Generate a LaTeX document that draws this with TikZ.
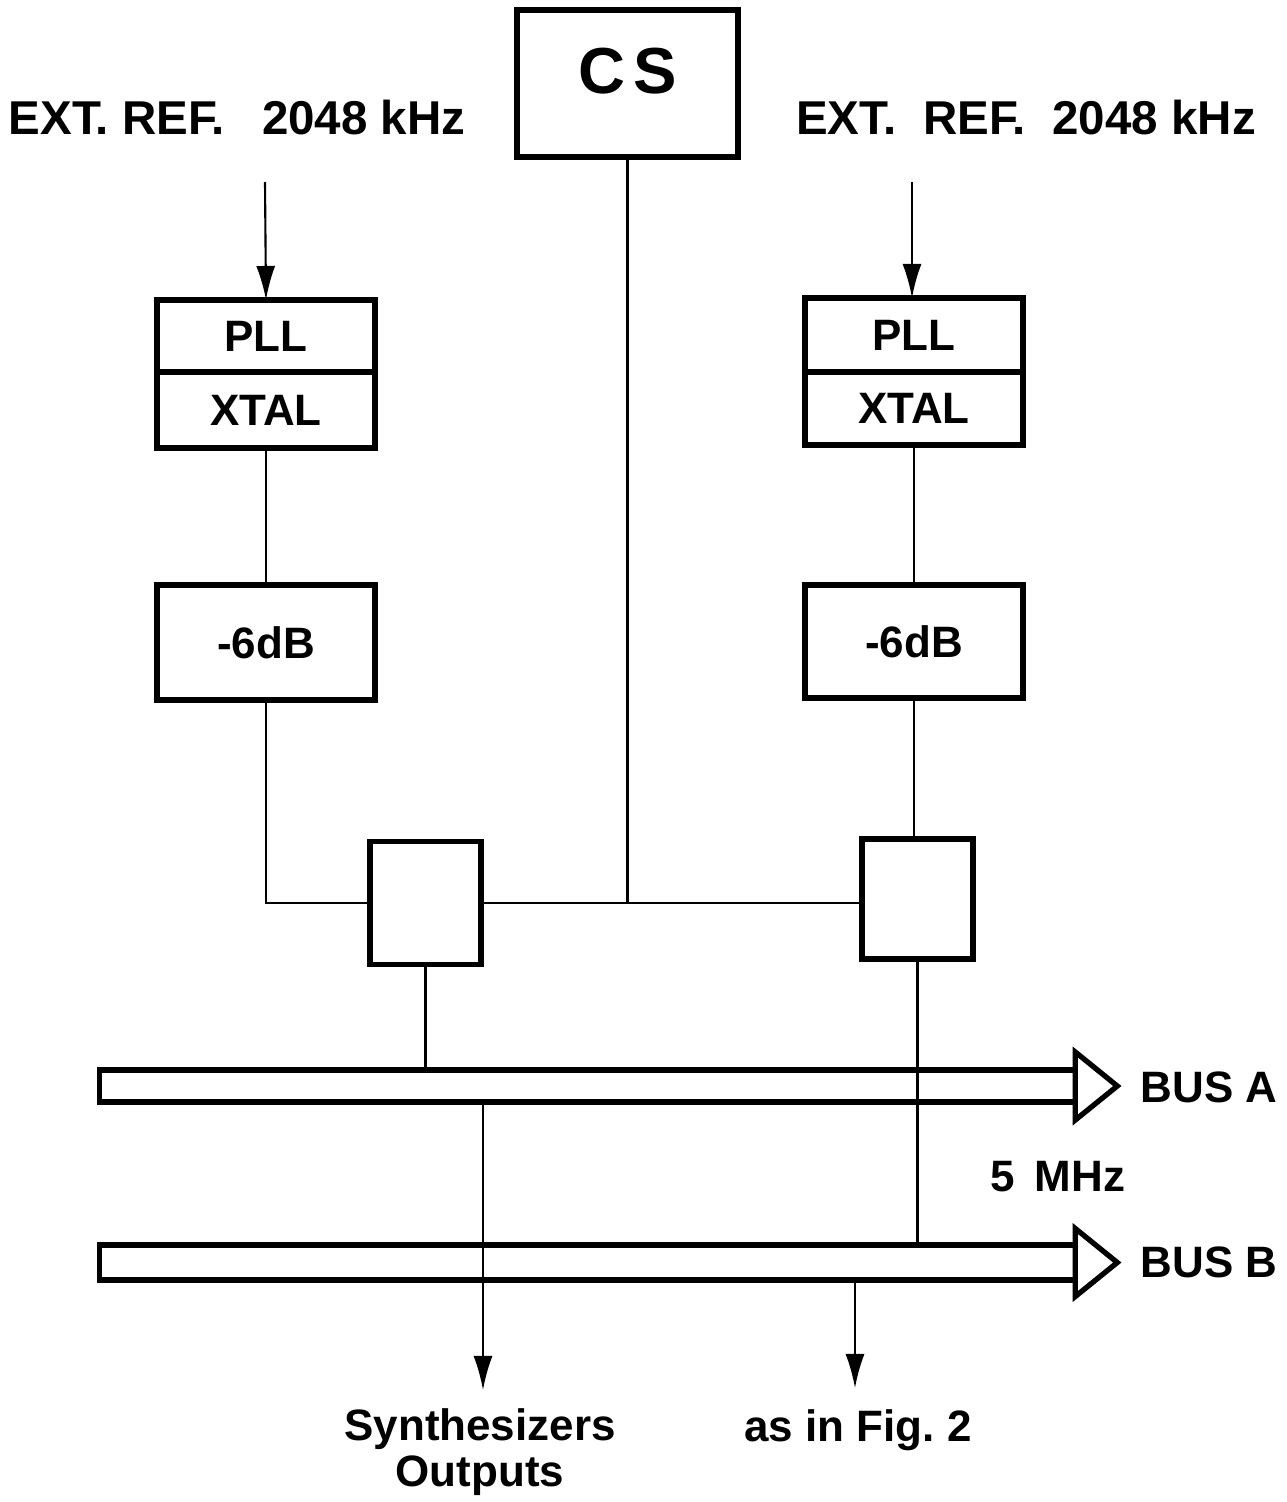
\documentclass[tikz,border=0pt]{standalone}
\usepackage{fontspec}
\setmainfont{Liberation Sans}
\usetikzlibrary{arrows.meta}
\begin{document}
\begin{tikzpicture}[x=0.01cm,y=-0.01cm,
  box/.style={draw,line width=1.6pt,rectangle,inner sep=0pt,outer sep=0pt,font=\fontsize{12.5}{14}\selectfont\bfseries},
  wire/.style={line width=0.6pt},
  arr/.style={line width=0.6pt,-{Latex[length=0.34cm,width=0.19cm]}},
  bus/.style={draw,line width=1.5pt,rectangle,inner sep=0pt,outer sep=0pt,minimum width=9.75cm},
  lbl/.style={font=\fontsize{12.5}{15}\selectfont\bfseries,inner sep=0pt,align=center},
  big/.style={font=\fontsize{13.5}{15}\selectfont\bfseries,inner sep=0pt}
]
\useasboundingbox (0,0) rectangle (1287,1502);
% top
\node[box,minimum width=2.21cm,minimum height=1.47cm,font=\fontsize{18.5}{20}\selectfont\bfseries,text depth=0.25cm] (cs) at (627.5,83.5) {C\kern0.12em S};
\node[big] (extL) at (237,118) {EXT. REF.\hspace{0.78em}2048 kHz};
\node[big] (extR) at (1026,118) {EXT.\hspace{0.56em}REF.\hspace{0.56em}2048 kHz};
\coordinate (refL) at (265,182);
\coordinate (refR) at (912,182);
% left chain
\node[box,minimum width=2.18cm,minimum height=0.72cm] (pllL) at (266,336) {PLL};
\node[box,minimum width=2.18cm,minimum height=0.76cm,anchor=north] (xtalL) at (pllL.south) {XTAL};
\node[box,minimum width=2.18cm,minimum height=1.15cm] (dbL) at (266,642.5) {-6dB};
% right chain
\node[box,minimum width=2.18cm,minimum height=0.74cm] (pllR) at (914,335) {PLL};
\node[box,minimum width=2.18cm,minimum height=0.73cm,anchor=north] (xtalR) at (pllR.south) {XTAL};
\node[box,minimum width=2.18cm,minimum height=1.13cm] (dbR) at (914,641.5) {-6dB};
% small boxes
\node[box,minimum width=1.11cm,minimum height=1.23cm] (sL) at (425.5,903) {};
\node[box,minimum width=1.11cm,minimum height=1.20cm] (sR) at (917.5,899) {};
% buses
\node[bus,minimum height=0.32cm] (busA) at (587.5,1086) {};
\node[bus,minimum height=0.35cm] (busB) at (587.5,1262.5) {};
\draw[line width=1.5pt,line join=miter] (busA.east) ++(0,-34) -- ++(42,34) -- ++(-42,34) -- cycle;
\draw[line width=1.5pt,line join=miter] (busB.east) ++(0,-34) -- ++(42,34) -- ++(-42,34) -- cycle;
\node[lbl,anchor=west] (busAl) at (1140,1087) {BUS A};
\node[lbl,anchor=west] (busBl) at (1140,1262) {BUS B};
\node[lbl] (mhz) at (1058,1177) {5\hspace{0.45em}MHz};
% outputs
\coordinate (outA) at (483,1390);
\coordinate (outB) at (855,1388);
\node[lbl] (synth) at (480,1452) {Synthesizers\\[-2pt]Outputs};
\node[lbl] (fig) at (858,1430) {as in Fig.\ 2};
% connectors
\draw[arr] (refL) -- (pllL.north);
\draw[arr] (refR) -- (refR |- pllR.north);
\draw[wire] (xtalL.south) -- (dbL.north);
\draw[wire] (xtalR.south) -- (dbR.north);
\draw[wire] (dbL.south) |- (sL.west);
\draw[wire] (dbR.south) -- (dbR.south |- sR.north);
\draw[wire] (sL.east) -- (sL.east -| sR.west);
\draw[wire] (cs.south) -- (cs.south |- sL.east);
\draw[wire] (sL.south) -- (sL.south |- busA.north);
\draw[wire] (sR.south) -- (sR.south |- busB.north);
\draw[arr] (outA |- busA.south) -- (outA);
\draw[arr] (outB |- busB.south) -- (outB);
\end{tikzpicture}
\end{document}
